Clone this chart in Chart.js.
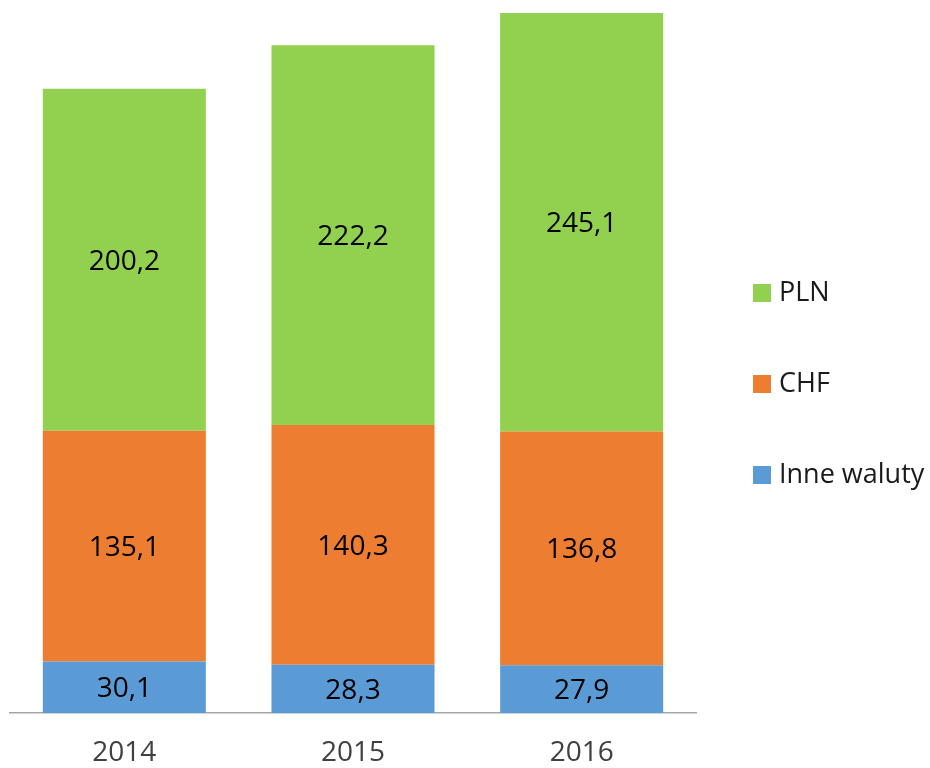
<!DOCTYPE html>
<html><head><meta charset="utf-8">
<script src="https://cdn.jsdelivr.net/npm/chart.js@4"></script>
<style>html,body{margin:0;padding:0;background:#fff}#wrap{width:930px;height:768px}</style>
</head><body><div id="wrap"><canvas id="c" width="930" height="768"></canvas></div>
<script>
const categories = ["2014", "2015", "2016"];
const inneWaluty = [30.1, 28.3, 27.9];
const chf = [135.1, 140.3, 136.8];
const pln = [200.2, 222.2, 245.1];
const seriesNames = ["Inne waluty", "CHF", "PLN"];
const FONT = "'Open Sans', 'Noto Sans', sans-serif";

const labelPlugin = {
  id: 'labels',
  afterDatasetsDraw(chart) {
    const ctx = chart.ctx;
    ctx.save();
    ctx.font = "28px " + FONT;
    ctx.fillStyle = "#000";
    ctx.textAlign = "center";
    ctx.textBaseline = "middle";
    chart.data.datasets.forEach((ds, i) => {
      chart.getDatasetMeta(i).data.forEach((bar, j) => {
        const cy = (bar.y + bar.base) / 2 + 2;
        ctx.fillText(ds.data[j].toFixed(1).replace('.', ','), bar.x, cy);
      });
    });
    ctx.restore();
  }
};
const legendPlugin = {
  id: 'customLegend',
  afterDraw(chart) {
    const ctx = chart.ctx;
    ctx.save();
    ctx.font = "27px " + FONT;
    ctx.textBaseline = "middle";
    ctx.textAlign = "left";
    const items = chart.data.datasets.slice().reverse();
    const startY = 293, gap = 91;
    items.forEach((ds, k) => {
      const y = startY + k * gap;
      ctx.fillStyle = ds.backgroundColor;
      ctx.fillRect(753, y - 9, 18, 18);
      ctx.fillStyle = "#1a1a1a";
      ctx.fillText(ds.label, 779, y);
    });
    ctx.restore();
  }
};

new Chart(document.getElementById('c'), {
  type: 'bar',
  data: {
    labels: categories,
    datasets: [
      { label: seriesNames[0], data: inneWaluty, backgroundColor: '#5B9BD5' },
      { label: seriesNames[1], data: chf, backgroundColor: '#ED7D31' },
      { label: seriesNames[2], data: pln, backgroundColor: '#92D050' }
    ]
  },
  options: {
    responsive: false,
    animation: false,
    layout: { padding: { left: 10, right: 234, top: 4, bottom: 0 } },
    plugins: { legend: { display: false }, tooltip: { enabled: false } },
    datasets: { bar: { categoryPercentage: 1, barPercentage: 0.713 } },
    scales: {
      x: {
        stacked: true,
        grid: { display: false, drawTicks: false },
        border: { display: true, color: '#A6A6A6', width: 1.5 },
        ticks: { color: '#404040', font: { family: FONT, size: 28 }, padding: 23 },
        afterFit(scale) { scale.height = 55; }
      },
      y: {
        stacked: true,
        display: false,
        min: 0,
        max: 415
      }
    }
  },
  plugins: [labelPlugin, legendPlugin]
});
</script>
</body></html>
